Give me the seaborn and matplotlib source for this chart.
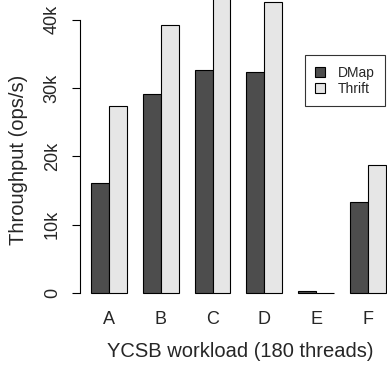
import pandas as pd
import matplotlib
matplotlib.use("Agg")
import matplotlib.pyplot as plt
import seaborn as sns

# data (ops/s)
workloads = ["A", "B", "C", "D", "E", "F"]
dmap = [16100, 29200, 32600, 32300, 300, 13300]
thrift = [27400, 39200, 44500, 42600, 60, 18700]
systems = ["DMap", "Thrift"]
yticks = [0, 10000, 20000, 30000, 40000]
ytick_labels = ["0", "10k", "20k", "30k", "40k"]

df = pd.DataFrame({
    "workload": workloads * 2,
    "system": ["DMap"] * len(workloads) + ["Thrift"] * len(workloads),
    "ops": dmap + thrift,
})

sns.set_style("white")
plt.rcParams["font.family"] = ["Liberation Sans", "DejaVu Sans"]

fig = plt.figure(figsize=(3.87, 3.67), dpi=100)
ax = fig.add_axes([80 / 387, 74 / 367, 307 / 387, 293 / 367])

sns.barplot(data=df, x="workload", y="ops", hue="system", order=workloads,
            hue_order=systems, palette={"DMap": "#4d4d4d", "Thrift": "#e6e6e6"},
            width=0.69, saturation=1, edgecolor="black", linewidth=0.8, ax=ax)

for p in ax.patches:
    p.set_clip_on(False)

ax.set_xlim(-0.56, 5.37)
ax.set_ylim(0, 42900)

for s in ["top", "right", "bottom"]:
    ax.spines[s].set_visible(False)
ax.spines["left"].set_bounds(0, 40000)
ax.spines["left"].set_color("black")
ax.spines["left"].set_linewidth(0.8)

ax.set_yticks(yticks)
ax.set_yticklabels(ytick_labels, rotation=90, va="center", fontsize=13)
ax.tick_params(axis="y", length=5.8, width=0.8, color="black", pad=8, left=True)
ax.tick_params(axis="x", length=0, pad=13, labelsize=13)

ax.set_xlabel("YCSB workload (180 threads)", fontsize=14.5, labelpad=10)
ax.xaxis.label.set_x(0.522)
ax.set_ylabel("Throughput (ops/s)", fontsize=14.5)
ax.yaxis.set_label_coords(-0.168, 0.455)

leg = ax.legend(loc="upper left", bbox_to_anchor=(0.733, 0.812), borderaxespad=0,
                fontsize=10, frameon=True, fancybox=False, edgecolor="black",
                handlelength=0.7, handleheight=0.7, handletextpad=0.9,
                borderpad=0.75, labelspacing=0.15, title=None)
leg.get_frame().set_linewidth(0.8)

fig.savefig("out.png", dpi=100)
